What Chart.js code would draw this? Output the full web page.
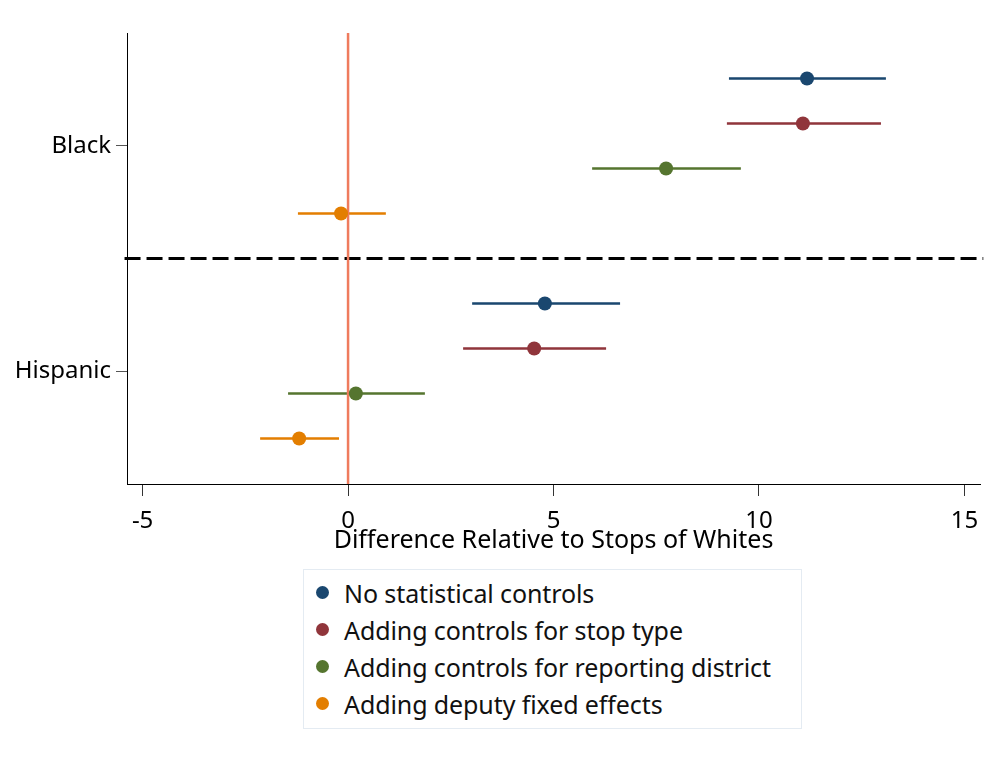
<!DOCTYPE html>
<html>
<head>
<meta charset="utf-8">
<script src="https://cdn.jsdelivr.net/npm/chart.js@4.4.0/dist/chart.umd.min.js"></script>
<style>
  body { margin: 0; background: #fff; font-family: "Noto Sans", sans-serif; }
  #wrap { position: relative; width: 996px; height: 758px; }
  #chartBox { position: absolute; left: 0; top: 0; width: 996px; height: 560px; }
  #legend {
    position: absolute; left: 303px; top: 569px; width: 499px; height: 160px;
    border: 1px solid #e4ebf2; box-sizing: border-box; padding-top: 4px;
  }
  .item { height: 37px; display: flex; align-items: center; font-size: 25px; color: #111; letter-spacing: -0.1px; }
  .dot { width: 13px; height: 13px; border-radius: 50%; margin: 0 15px 0 12px; }
</style>
</head>
<body>
<div id="wrap">
  <div id="chartBox"><canvas id="coefChart"></canvas></div>
  <div id="legend"></div>
</div>
<script>
const groups = ['Black', 'Hispanic'];
const groupPos = [2, 1];
const seriesLabels = ['No statistical controls', 'Adding controls for stop type',
  'Adding controls for reporting district', 'Adding deputy fixed effects'];
// estimates and 95% CI bounds, one pair per series: [Black, Hispanic]
const pointEst = [[11.17, 4.79], [11.07, 4.53], [7.74, 0.19], [-0.17, -1.19]];
const ciLow = [[9.27, 3.02], [9.22, 2.80], [5.94, -1.46], [-1.22, -2.14]];
const ciHigh = [[13.09, 6.62], [12.97, 6.28], [9.56, 1.87], [0.92, -0.22]];
const xTicks = [-5, 0, 5, 10, 15];

const colors = ['#1a476f', '#90353b', '#55752f', '#e37e00'];
const offsets = [0.3, 0.1, -0.1, -0.3];
const xMin = -5.38, xMax = 15.38, yMin = 0.498, yMax = 2.502;
const fontFamily = 'Noto Sans';

const datasets = [];
seriesLabels.forEach((label, s) => {
  datasets.push({
    label: label,
    data: groupPos.map((g, i) => ({ x: pointEst[s][i], y: g + offsets[s] })),
    backgroundColor: colors[s], borderColor: colors[s],
    pointRadius: 7, pointHoverRadius: 7, borderWidth: 0, order: 0
  });
  const bars = [];
  groupPos.forEach((g, i) => {
    bars.push({ x: ciLow[s][i], y: g + offsets[s] });
    bars.push({ x: ciHigh[s][i], y: g + offsets[s] });
    bars.push({ x: NaN, y: NaN });
  });
  datasets.push({
    data: bars, showLine: true, borderColor: colors[s], borderWidth: 2.5,
    pointRadius: 0, spanGaps: false, order: 2
  });
});
datasets.push({
  data: [{ x: 0, y: yMin }, { x: 0, y: yMax }], showLine: true,
  borderColor: '#ef7b5d', borderWidth: 2.5, pointRadius: 0, order: 1
});
datasets.push({
  data: [{ x: xMin - 0.06, y: 1.5 }, { x: xMax + 0.08, y: 1.5 }], showLine: true, clip: false,
  borderColor: '#000', borderWidth: 3, borderDash: [16, 6], pointRadius: 0, order: 3
});

const ctx = document.getElementById('coefChart').getContext('2d');
const coefChart = new Chart(ctx, {
  type: 'scatter',
  data: { datasets: datasets },
  options: {
    responsive: true,
    maintainAspectRatio: false,
    animation: false,
    layout: { padding: { top: 33, right: 16, left: 0, bottom: 0 } },
    plugins: { legend: { display: false }, tooltip: { enabled: false } },
    scales: {
      x: {
        min: xMin, max: xMax,
        afterBuildTicks: s => { s.ticks = xTicks.map(v => ({ value: v })); },
        afterFit: s => { s.height = 76; },
        grid: { drawOnChartArea: false, drawTicks: true, tickLength: 12, color: '#333' },
        border: { color: '#000', width: 1 },
        ticks: { color: '#000', font: { family: fontFamily, size: 24 }, padding: 11, maxRotation: 0 },
        title: {
          display: true, text: 'Difference Relative to Stops of Whites', color: '#000',
          font: { family: fontFamily, size: 25 }, padding: { top: -22, bottom: 4 }
        }
      },
      y: {
        min: yMin, max: yMax,
        afterBuildTicks: s => { s.ticks = groupPos.map(v => ({ value: v })); },
        afterFit: s => { s.width = 127; },
        grid: { drawOnChartArea: false, drawTicks: true, tickLength: 11, color: '#555' },
        border: { color: '#000', width: 1 },
        ticks: {
          color: '#000', font: { family: fontFamily, size: 24 }, padding: 5,
          callback: v => groups[groupPos.indexOf(v)]
        }
      }
    }
  }
});

const legend = document.getElementById('legend');
seriesLabels.forEach((label, s) => {
  const row = document.createElement('div');
  row.className = 'item';
  row.innerHTML = '<span class="dot" style="background:' + colors[s] + '"></span><span>' + label + '</span>';
  legend.appendChild(row);
});
</script>
</body>
</html>
